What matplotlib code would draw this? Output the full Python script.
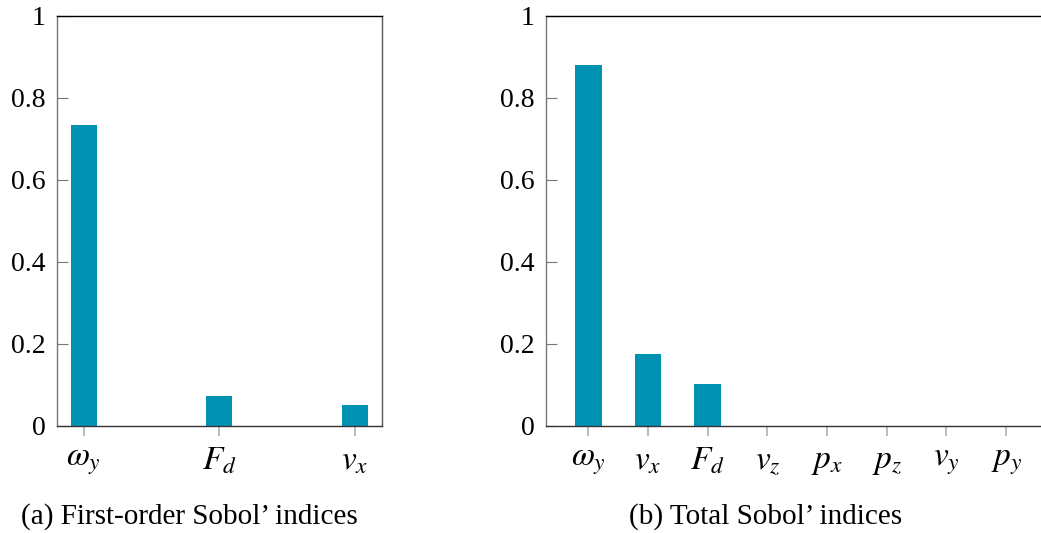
import matplotlib
matplotlib.use("Agg")
import matplotlib.pyplot as plt

# Sobol' sensitivity indices per input parameter
first_order_labels = [r"$\omega_y$", r"$F_d$", r"$v_x$"]
first_order_values = [0.733, 0.073, 0.051]

total_labels = [r"$\omega_y$", r"$v_x$", r"$F_d$", r"$v_z$",
                r"$p_x$", r"$p_z$", r"$v_y$", r"$p_y$"]
total_values = [0.881, 0.176, 0.102, 0.0, 0.0, 0.0, 0.0, 0.0]

y_ticks = [0, 0.2, 0.4, 0.6, 0.8, 1.0]
y_tick_labels = ["0", "0.2", "0.4", "0.6", "0.8", "1"]

captions = ["(a) First-order Sobol\u2019 indices", "(b) Total Sobol\u2019 indices"]

bar_color = "#0092B2"

plt.rcParams["font.family"] = ["Liberation Serif", "DejaVu Serif"]
plt.rcParams["mathtext.fontset"] = "stix"

fig = plt.figure(figsize=(10.41, 5.33), dpi=100)

ax1 = fig.add_axes([0.0545, 0.2008, 0.3122, 0.7692])
ax2 = fig.add_axes([0.5242, 0.2008, 0.4833, 0.7692])


def style_axis(ax, labels, values, width, xlim):
    x = list(range(len(values)))
    ax.bar(x, values, width=width, color=bar_color, edgecolor="none", zorder=2)
    ax.set_xlim(*xlim)
    ax.set_ylim(0, 1)
    ax.set_xticks(x)
    ax.set_xticklabels(labels, fontsize=24)
    ax.set_yticks(y_ticks)
    ax.set_yticklabels(y_tick_labels, fontsize=20)
    ax.tick_params(axis="y", direction="in", length=8, width=0.8,
                   color="#777777", pad=8)
    ax.tick_params(axis="x", direction="out", length=7.5, width=1.2,
                   color="#b0b0b0", pad=7)
    ax.spines["top"].set_color("black")
    ax.spines["right"].set_color("#555555")
    ax.spines["left"].set_color("#777777")
    ax.spines["bottom"].set_color("#333333")
    for s in ax.spines.values():
        s.set_linewidth(1.0)


style_axis(ax1, first_order_labels, first_order_values, 0.192, (-0.2, 2.2))
style_axis(ax2, total_labels, total_values, 0.447, (-0.714, 7.714))

fig.text(189 / 1041, 1 - 517 / 533, captions[0], ha="center", va="center",
         fontsize=21)
fig.text(766 / 1041, 1 - 517 / 533, captions[1], ha="center", va="center",
         fontsize=21)

fig.savefig("out.png", dpi=100)
